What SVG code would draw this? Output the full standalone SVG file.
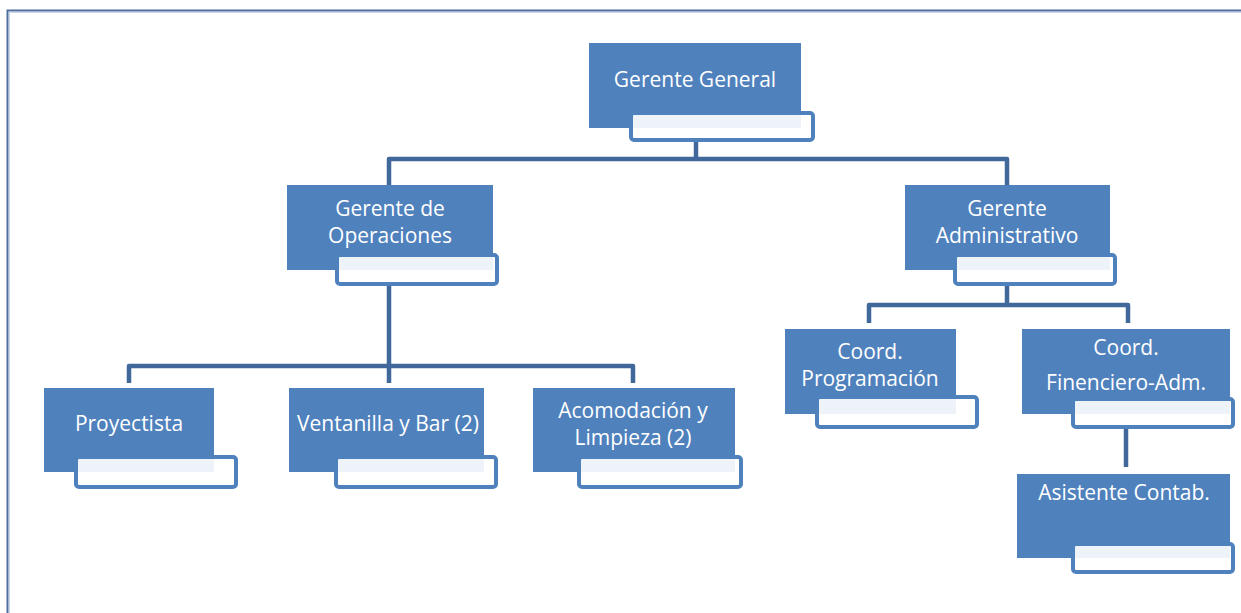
<svg xmlns="http://www.w3.org/2000/svg" width="1241" height="613" viewBox="0 0 1241 613">
<style>
.m{fill:#4F81BD}
.s{fill:#ffffff;fill-opacity:0.9;stroke:#4F81BD;stroke-width:4}
.t{font-family:"Open Sans","Noto Sans",sans-serif;font-size:21px;fill:#ffffff;text-anchor:middle}
.c{fill:none;stroke:#41689A;stroke-width:4.5;stroke-linejoin:round}
</style>
<rect width="1241" height="613" fill="#ffffff"/>
<path d="M7.5 613 V10.5 H1241" fill="none" stroke="#4F6FA0" stroke-width="2"/>
<path d="M9.5 613 V12.5 H1241" fill="none" stroke="#C9D6EA" stroke-width="1"/>
<g id="connectors">
<path class="c" d="M696 141 V159 M389 185 V159 H1007 V185"/>
<path class="c" d="M389 284 V366 M129 383 V366 H633 V383 M389 366 V383"/>
<path class="c" d="M1007 284 V305 M869 323 V305 H1128 V323"/>
<path class="c" d="M1126 427 V467"/>
</g>
<g id="gerente-general">
<rect class="m" x="589" y="43" width="212" height="85"/>
<rect class="s" x="631" y="113" width="182" height="27" rx="3"/>
<text class="t" x="695" y="87">Gerente General</text>
</g>
<g id="gerente-operaciones">
<rect class="m" x="287" y="185" width="206" height="85"/>
<rect class="s" x="337" y="255" width="160" height="29" rx="3"/>
<text class="t" x="390" y="216">Gerente de</text>
<text class="t" x="390" y="243">Operaciones</text>
</g>
<g id="gerente-administrativo">
<rect class="m" x="905" y="185" width="205" height="85"/>
<rect class="s" x="955" y="255" width="160" height="29" rx="3"/>
<text class="t" x="1007" y="216">Gerente</text>
<text class="t" x="1007" y="243">Administrativo</text>
</g>
<g id="proyectista">
<rect class="m" x="44" y="388" width="170" height="84"/>
<rect class="s" x="76" y="457" width="160" height="30" rx="3"/>
<text class="t" x="129" y="431">Proyectista</text>
</g>
<g id="ventanilla">
<rect class="m" x="289" y="388" width="195" height="84"/>
<rect class="s" x="336" y="457" width="160" height="30" rx="3"/>
<text class="t" x="388" y="431">Ventanilla y Bar (2)</text>
</g>
<g id="acomodacion">
<rect class="m" x="533" y="388" width="202" height="84"/>
<rect class="s" x="579" y="457" width="162" height="30" rx="3"/>
<text class="t" x="633" y="418">Acomodación y</text>
<text class="t" x="633" y="445">Limpieza (2)</text>
</g>
<g id="coord-programacion">
<rect class="m" x="785" y="329" width="171" height="85"/>
<rect class="s" x="817" y="397" width="160" height="30" rx="3"/>
<text class="t" x="870" y="359">Coord.</text>
<text class="t" x="870" y="386">Programación</text>
</g>
<g id="coord-financiero">
<rect class="m" x="1022" y="329" width="208" height="85"/>
<rect class="s" x="1073" y="399" width="160" height="28" rx="3"/>
<text class="t" x="1126" y="355">Coord.</text>
<text class="t" x="1126" y="390">Finenciero-Adm.</text>
</g>
<g id="asistente-contab">
<rect class="m" x="1017" y="474" width="213" height="84"/>
<rect class="s" x="1073" y="544" width="160" height="28" rx="3"/>
<text class="t" x="1124" y="500">Asistente Contab.</text>
</g>
</svg>
